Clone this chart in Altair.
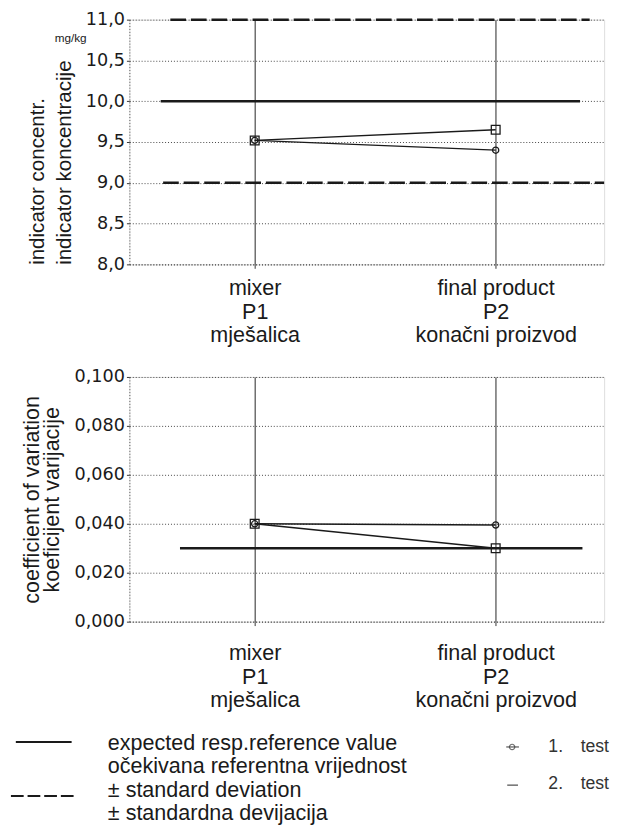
import json
import altair as alt
import pandas as pd

# ---------------- data ----------------
positions = [1, 2]
label_lines = [["mixer", "P1", "mješalica"], ["final product", "P2", "konačni proizvod"]]
tests = ["1. test", "2. test"]

conc_test1 = [9.52, 9.40]
conc_test2 = [9.52, 9.65]
cv_test1 = [0.040, 0.0395]
cv_test2 = [0.040, 0.030]

conc_ticks = [8.0, 8.5, 9.0, 9.5, 10.0, 10.5, 11.0]
cv_ticks = [0.0, 0.02, 0.04, 0.06, 0.08, 0.10]

# reference lines: value, start, end, kind
conc_ref_values = [10.0, 11.0, 9.0]
conc_ref_start = [0.61, 0.65, 0.62]
conc_ref_end = [2.35, 2.39, 2.45]
conc_ref_kind = ["expected", "sd", "sd"]

cv_ref_values = [0.030]
cv_ref_start = [0.69]
cv_ref_end = [2.36]
cv_ref_kind = ["expected"]

legend_text = ["expected resp.reference value", "očekivana referentna vrijednost",
               "± standard deviation", "± standardna devijacija"]

# ---------------- helpers ----------------
INK = "#1a1a1a"
XDOM = [0.48, 2.45]
W = 485


def series_df(v1, v2):
    rows = []
    for t, vals in zip(tests, [v1, v2]):
        for p, v in zip(positions, vals):
            rows.append({"pos": p, "value": v, "test": t})
    return pd.DataFrame(rows)


def ref_df(vals, s, e, k):
    return pd.DataFrame({"y": vals, "x0": s, "x1": e, "kind": k})


label_expr = "datum.value == 1 ? " + json.dumps(label_lines[0], ensure_ascii=False).replace('"', "'") + \
    " : " + json.dumps(label_lines[1], ensure_ascii=False).replace('"', "'")


def x_axis(pad):
    return alt.Axis(values=positions, title=None, grid=True, gridColor="#222", gridWidth=1,
                    domain=True, domainColor="#555", domainDash=[1, 2], tickSize=4, tickColor="#333",
                    labelExpr=label_expr, labelFont="Liberation Sans", labelFontSize=22,
                    labelLineHeight=24, labelColor=INK, labelPadding=pad, labelFlush=False,
                    labelBaseline="top")


def y_axis(values, fmt, title, title_x, title_y, title_align, title_lh, title_fs):
    return alt.Axis(values=values, labelExpr="replace(format(datum.value,'" + fmt + "'),'.',',')",
                    labelFont="DejaVu Sans", labelFontSize=18, labelColor=INK, tickSize=3,
                    tickColor="#333", labelPadding=2, grid=True, gridDash=[1, 2], gridColor="#444",
                    gridWidth=1, domain=True, domainColor="#555", domainDash=[1, 2],
                    title=title, titleFont="Liberation Sans", titleFontSize=title_fs,
                    titleFontWeight="normal", titleColor=INK, titleLineHeight=title_lh, titleAngle=-90,
                    titleX=title_x, titleY=title_y, titleAlign=title_align, titleBaseline="bottom")


def panel(v1, v2, refs, ydom, yvals, fmt, title, title_x, title_y, title_align, title_lh, title_fs, xpad):
    data = series_df(v1, v2)
    xs = alt.Scale(domain=XDOM, nice=False, zero=False)
    ys = alt.Scale(domain=ydom, nice=False, zero=False)
    x = alt.X("pos:Q", scale=xs, axis=x_axis(xpad))
    y = alt.Y("value:Q", scale=ys,
              axis=y_axis(yvals, fmt, title, title_x, title_y, title_align, title_lh, title_fs))
    base = alt.Chart(data)
    lines = base.mark_line(color=INK, strokeWidth=1.4).encode(x=x, y=y, detail="test:N")
    pts = base.mark_point(filled=False, color=INK, strokeWidth=1.3, opacity=1).encode(
        x="pos:Q", y="value:Q",
        shape=alt.Shape("test:N", scale=alt.Scale(domain=tests, range=["circle", "square"]), legend=None),
        size=alt.Size("test:N", scale=alt.Scale(domain=tests, range=[40, 80]), legend=None),
    )
    rb = alt.Chart(refs)
    solid = rb.transform_filter("datum.kind == 'expected'").mark_rule(
        color=INK, strokeWidth=2.6).encode(x="x0:Q", x2="x1:Q", y="y:Q")
    dashed = rb.transform_filter("datum.kind == 'sd'").mark_rule(
        color=INK, strokeWidth=2.6, strokeDash=[16, 5]).encode(x="x0:Q", x2="x1:Q", y="y:Q")
    return [solid, dashed, lines, pts]


one = pd.DataFrame({"a": [0]})

top_layers = panel(conc_test1, conc_test2,
                   ref_df(conc_ref_values, conc_ref_start, conc_ref_end, conc_ref_kind),
                   [8, 11], conc_ticks, ".1f", ["indicator concentr.", "indicator koncentracije"],
                   -84, 250, "left", 28, 21, 10)
unit = alt.Chart(one).mark_text(text="mg/kg", font="Liberation Sans", fontSize=12, color=INK).encode(
    x=alt.value(-60), y=alt.value(19))
top = alt.layer(*top_layers, unit).properties(width=W, height=250)

bot_layers = panel(cv_test1, cv_test2,
                   ref_df(cv_ref_values, cv_ref_start, cv_ref_end, cv_ref_kind),
                   [0, 0.1], cv_ticks, ".3f", ["coefficient of variation", "koeficijent varijacije"],
                   -88, 125, "center", 21, 22, 18)

leg_solid = alt.Chart(one).mark_rule(color=INK, strokeWidth=2).encode(
    x=alt.value(-116), x2=alt.value(-59), y=alt.value(373))
leg_dash = alt.Chart(one).mark_rule(color=INK, strokeWidth=2, strokeDash=[13, 4]).encode(
    x=alt.value(-121), x2=alt.value(-56), y=alt.value(428))
leg_text = alt.Chart(one).mark_text(align="left", baseline="middle", lineBreak="\n", lineHeight=24,
                                    font="Liberation Sans", fontSize=22, color=INK).encode(
    x=alt.value(-22), y=alt.value(374), text=alt.value("\n".join(legend_text)))
leg_c_line = alt.Chart(one).mark_rule(color="#555", strokeWidth=1.2).encode(
    x=alt.value(385), x2=alt.value(398), y=alt.value(378))
leg_c = alt.Chart(one).mark_point(shape="circle", filled=False, color="#333", size=30, strokeWidth=1.2).encode(
    x=alt.value(391), y=alt.value(378))
leg_d = alt.Chart(one).mark_rule(color="#555", strokeWidth=1.3).encode(
    x=alt.value(386), x2=alt.value(397), y=alt.value(417))
leg_t = alt.Chart(one).mark_text(align="left", baseline="middle", lineBreak="\n", lineHeight=38,
                                 font="Liberation Sans", fontSize=18, color="#333").encode(
    x=alt.value(428), y=alt.value(378), text=alt.value("1.\u2003test\n2.\u2003test"))

bottom = alt.layer(*bot_layers, leg_solid, leg_dash, leg_text, leg_c_line, leg_c, leg_d, leg_t).properties(
    width=W, height=250)

chart = alt.vconcat(top, bottom, spacing=21).properties(
    padding={"left": 1, "top": -7, "right": 0, "bottom": 0}
).configure_view(stroke=None).configure(background="white", font="Liberation Sans")

chart.save("out.html", embed_options={"renderer": "svg", "actions": False})
